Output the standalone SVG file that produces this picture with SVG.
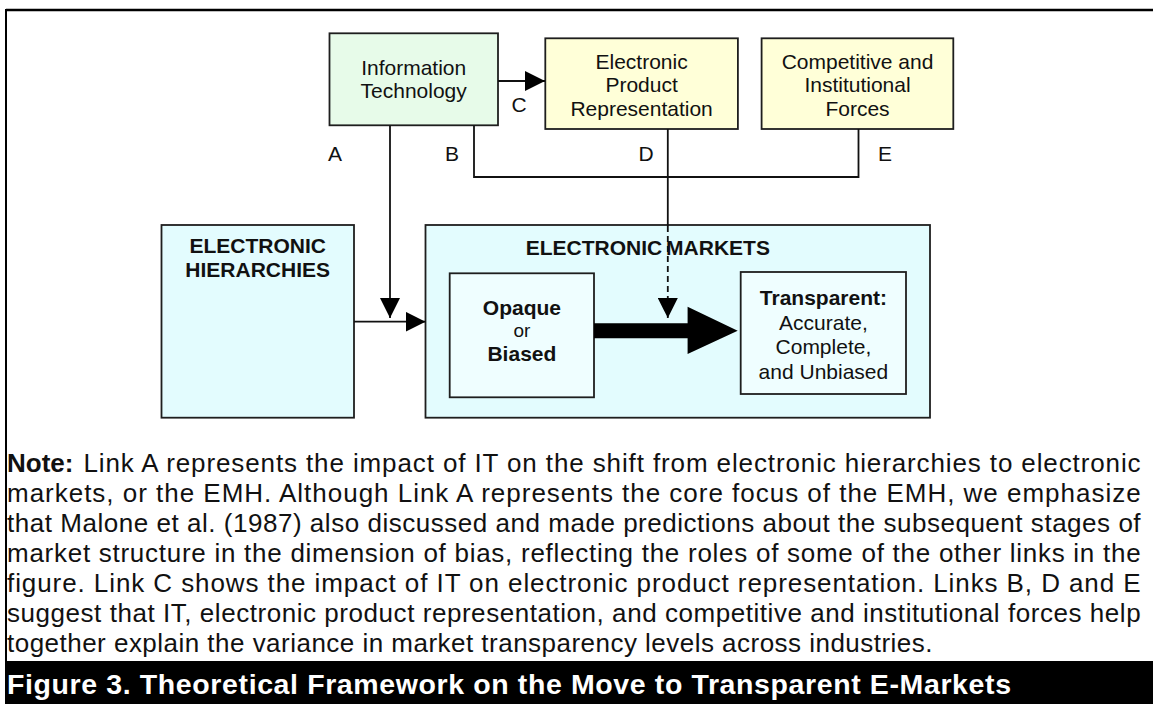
<svg xmlns="http://www.w3.org/2000/svg" width="1153" height="704" viewBox="0 0 1153 704">
<style>
.box{stroke:#1e1e1e;stroke-width:1.8}
.it{fill:#e7fbe9}
.yel{fill:#ffffd8}
.cy{fill:#e3fcfe}
.inner{fill:#effeff}
.t{font-family:"Liberation Sans",Arial,sans-serif;font-size:21px;fill:#111;text-anchor:middle}
.b{font-weight:bold}
.lab{font-family:"Liberation Sans",Arial,sans-serif;font-size:21px;fill:#111;text-anchor:middle}
.note{font-family:"Liberation Sans",Arial,sans-serif;font-size:26px;fill:#111}
.ln{fill:none;stroke:#111;stroke-width:1.8}
</style>
<defs>
<marker id="ah" markerUnits="userSpaceOnUse" markerWidth="20" markerHeight="20" viewBox="0 0 20 20" refX="20" refY="10" orient="auto">
<path d="M0,0 L20,10 L0,20 z" fill="#000"/>
</marker>
</defs>
<rect x="0" y="0" width="1153" height="704" fill="#fff"/>
<g id="frame">
<line x1="6" y1="10" x2="1153" y2="10" stroke="#000" stroke-width="2.7"/>
<line x1="6" y1="9" x2="6" y2="661" stroke="#000" stroke-width="2"/>
</g>
<g id="node-it">
<rect class="box it" x="329.5" y="33.3" width="168.5" height="92"/>
<text class="t" x="413.7" y="75">Information</text>
<text class="t" x="413.7" y="98">Technology</text>
</g>
<g id="node-epr">
<rect class="box yel" x="545.3" y="38.3" width="192.6" height="90.7"/>
<text class="t" x="641.6" y="68.5">Electronic</text>
<text class="t" x="641.6" y="92">Product</text>
<text class="t" x="641.6" y="115.5">Representation</text>
</g>
<g id="node-cif">
<rect class="box yel" x="761.6" y="38.3" width="191.7" height="90.7"/>
<text class="t" x="857.5" y="68.5">Competitive and</text>
<text class="t" x="857.5" y="92">Institutional</text>
<text class="t" x="857.5" y="115.5">Forces</text>
</g>
<g id="node-eh">
<rect class="box cy" x="161.5" y="225" width="192.5" height="192.7"/>
<text class="t b" x="257.7" y="253.3">ELECTRONIC</text>
<text class="t b" x="257.7" y="277.3">HIERARCHIES</text>
</g>
<g id="node-em">
<rect class="box cy" x="425.5" y="225" width="504.5" height="192.7"/>
<text class="t b" x="594" y="255">ELECTRONIC</text>
<text class="t b" x="718" y="255">MARKETS</text>
</g>
<g id="node-opaque">
<rect class="box inner" x="449.7" y="273.3" width="144.3" height="124"/>
<text class="t b" x="521.9" y="315">Opaque</text>
<text class="t" x="521.9" y="336.7" style="font-size:19px">or</text>
<text class="t b" x="521.9" y="360.7">Biased</text>
</g>
<g id="node-transparent">
<rect class="box inner" x="740.7" y="272" width="165.3" height="122"/>
<text class="t b" x="823.4" y="305">Transparent:</text>
<text class="t" x="823.4" y="329.5">Accurate,</text>
<text class="t" x="823.4" y="354">Complete,</text>
<text class="t" x="823.4" y="378.5">and Unbiased</text>
</g>
<g id="connectors">
<line class="ln" x1="498" y1="81" x2="545" y2="81" marker-end="url(#ah)"/>
<line class="ln" x1="390" y1="125.5" x2="390" y2="318" marker-end="url(#ah)"/>
<polyline class="ln" points="474,125.5 474,177 858.5,177 858.5,129"/>
<line class="ln" x1="667.8" y1="129" x2="667.8" y2="226"/>
<line class="ln" x1="667.8" y1="226" x2="667.8" y2="318" stroke-dasharray="6 4" marker-end="url(#ah)"/>
<line class="ln" x1="354" y1="321.7" x2="425.5" y2="321.7" marker-end="url(#ah)"/>
<polygon points="594,323.2 687.6,323.2 687.6,306.7 737.7,330.7 687.6,354 687.6,338.2 594,338.2" fill="#000"/>
</g>
<g id="labels">
<text class="lab" x="335" y="161">A</text>
<text class="lab" x="452" y="161">B</text>
<text class="lab" x="519" y="111.7">C</text>
<text class="lab" x="646" y="161">D</text>
<text class="lab" x="885" y="161">E</text>
</g>
<g id="note">
<text class="note" x="7" y="472" font-weight="bold">Note:</text>
<text class="note" x="83.4" y="472" textLength="1057.2" lengthAdjust="spacing">Link A represents the impact of IT on the shift from electronic hierarchies to electronic</text>
<text class="note" x="7" y="502" textLength="1133.6" lengthAdjust="spacing">markets, or the EMH. Although Link A represents the core focus of the EMH, we emphasize</text>
<text class="note" x="7" y="532" textLength="1133.6" lengthAdjust="spacing">that Malone et al. (1987) also discussed and made predictions about the subsequent stages of</text>
<text class="note" x="7" y="562" textLength="1133.6" lengthAdjust="spacing">market structure in the dimension of bias, reflecting the roles of some of the other links in the</text>
<text class="note" x="7" y="592" textLength="1133.6" lengthAdjust="spacing">figure. Link C shows the impact of IT on electronic product representation. Links B, D and E</text>
<text class="note" x="7" y="622" textLength="1133.6" lengthAdjust="spacing">suggest that IT, electronic product representation, and competitive and institutional forces help</text>
<text class="note" x="7" y="652" textLength="925.5" lengthAdjust="spacing">together explain the variance in market transparency levels across industries.</text>
</g>
<g id="caption">
<rect x="5" y="661" width="1148" height="43" fill="#000"/>
<text x="7" y="694" font-family="'Liberation Sans',Arial,sans-serif" font-size="28.5" font-weight="bold" fill="#fff" textLength="1004" lengthAdjust="spacing">Figure 3. Theoretical Framework on the Move to Transparent E-Markets</text>
</g>
</svg>
